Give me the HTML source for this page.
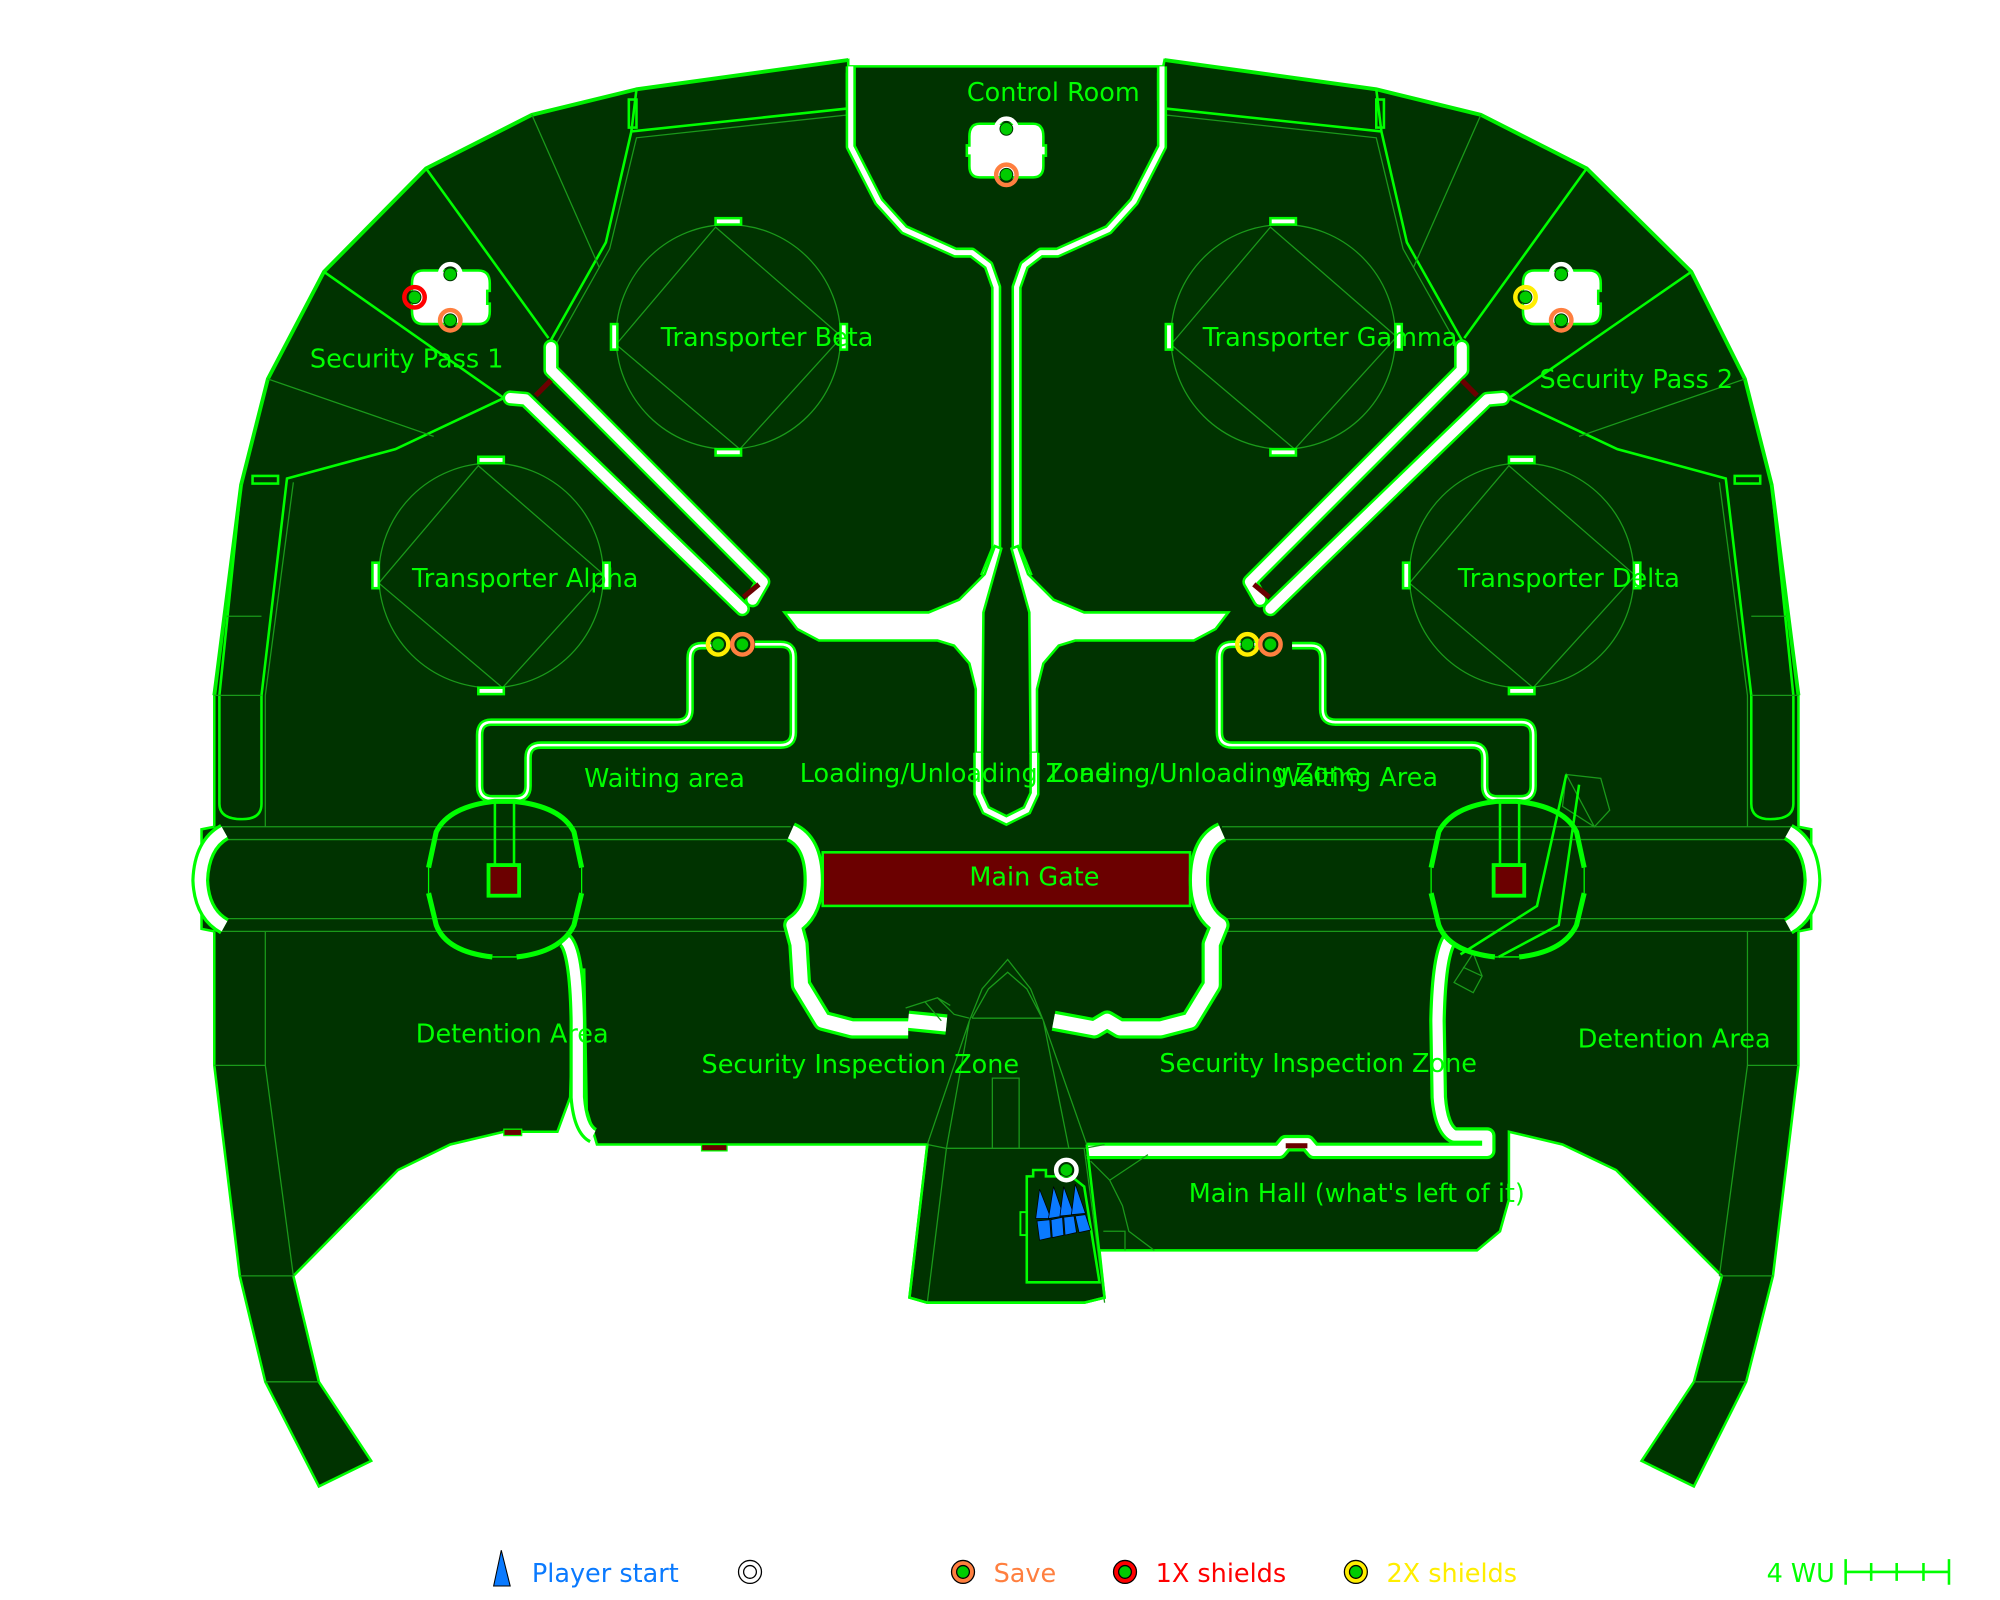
<!DOCTYPE html>
<html><head><meta charset="utf-8"><style>
html,body{margin:0;padding:0;background:#fff;width:2000px;height:1600px;overflow:hidden}
svg{display:block}
text{font-family:"DejaVu Sans","Liberation Sans",sans-serif}
</style></head><body>
<svg width="2000" height="1600" viewBox="0 0 1568 1254" preserveAspectRatio="none" xmlns="http://www.w3.org/2000/svg">
<!-- main floor -->
<path d="M665 47 L499 70 L417 90 L334 132 L254 213 L210 297 L189 380 L168 545 L168 648 L158 650 L158 728 L168 730 L168 835 L188 1000 L208 1083 L250 1165 L291 1145 L250 1083 L230 1000 L312 917 L353 897 L395 887 L437 887 L447 860 L450 760 L458 760 L460 870 L468 897 L727 897 L713 1017 L727 1021 L850 1021 L866 1017 L862 980 L1158 980 L1176 965 L1183 940 L1183 887 L1225 897 L1267 917 L1350 1000 L1328 1083 L1287 1145 L1328 1165 L1369 1083 L1390 1000 L1410 835 L1410 730 L1420 728 L1420 650 L1410 648 L1410 545 L1389 380 L1368 297 L1326 213 L1244 132 L1161 90 L1079 70 L913 47 L912 52 L665 52 Z" fill="#003300" stroke="#00ff00" stroke-width="2"/>
<path d="M665 47 L499 70 L417 90 L334 132 L254 213 L210 297 L189 380 L168 545" fill="none" stroke="#00ee00" stroke-width="3"/>
<path d="M913 47 L1079 70 L1161 90 L1244 132 L1326 213 L1368 297 L1389 380 L1410 545" fill="none" stroke="#00ee00" stroke-width="3"/>
<g fill="none" stroke="#00ff00" stroke-width="2">
<path d="M665 85 L495 103 L475 190 L430 270"/>
<path d="M499 70 L495 103"/>
<path d="M334 132 L430 265"/>
<path d="M254 213 L395 312"/>
<path d="M395 312 L310 352 L225 375 L205 545 L205 630 Q205 642 190 642 Q172 642 172 630 L172 545 L189 380"/>
<path d="M913 85 L1083 103 L1103 190 L1148 270"/>
<path d="M1079 70 L1083 103"/>
<path d="M1244 132 L1148 265"/>
<path d="M1326 213 L1183 312"/>
<path d="M1183 312 L1268 352 L1353 375 L1373 545 L1373 630 Q1373 642 1388 642 Q1406 642 1406 630 L1406 545 L1389 380"/>
<rect x="198" y="373" width="20" height="6"/><rect x="1360" y="373" width="20" height="6"/>
<rect x="493" y="78" width="6" height="22"/><rect x="1079" y="78" width="6" height="22"/>
<rect x="664" y="58" width="5" height="20" fill="#6b0000"/><rect x="908" y="58" width="5" height="20" fill="#6b0000"/>
</g>
<g fill="none" stroke="#1a9a1a" stroke-width="1">
<path d="M417 90 L470 210"/><path d="M1161 90 L1108 210"/>
<path d="M210 297 L340 342"/><path d="M1368 297 L1238 342"/>
<path d="M665 90 L499 108 L478 195 L433 275"/><path d="M913 90 L1079 108 L1100 195 L1145 275"/>
<path d="M230 378 L208 545 L208 648"/><path d="M1348 378 L1370 545 L1370 648"/>
<path d="M178 483 L205 483"/><path d="M1373 483 L1400 483"/>
<path d="M168 545 L205 545"/><path d="M1373 545 L1410 545"/>
<path d="M168 658 L620 658 M168 720 L620 720 M958 658 L1410 658 M958 720 L1410 720"/>
<path d="M168 648 L620 648 M168 730 L620 730 M958 648 L1410 648 M958 730 L1410 730"/>
<path d="M208 730 L208 835 L230 1000 M168 835 L208 835 M188 1000 L230 1000 M208 1083 L250 1083"/>
<path d="M1370 730 L1370 835 L1348 1000 M1410 835 L1370 835 M1390 1000 L1348 1000 M1369 1083 L1328 1083"/>
<path d="M1228 607 L1255 610 L1262 635 L1250 648 L1228 607 L1225 632 L1250 648 M1228 607 L1250 648"/>
<path d="M1155 747 L1162 765 L1155 778 L1140 770 Z M1147 758 L1162 765"/>
</g>
<g fill="none" stroke="#1a9a1a" stroke-width="1">
<circle cx="571" cy="264" r="88"/><path d="M561 178 L660 264 L580 352 L483 270 Z"/>
<circle cx="385" cy="451" r="88"/><path d="M375 365 L474 451 L394 539 L297 457 Z"/>
<circle cx="1006" cy="264" r="88"/><path d="M996 178 L1095 264 L1015 352 L918 270 Z"/>
<circle cx="1193" cy="451" r="88"/><path d="M1183 365 L1282 451 L1202 539 L1105 457 Z"/>
</g>
<g fill="#fff" stroke="#00ff00" stroke-width="2">
<rect x="561" y="171" width="20" height="5"/><rect x="561" y="352" width="20" height="5"/><rect x="479" y="254" width="5" height="20"/><rect x="659" y="254" width="5" height="20"/>
<rect x="375" y="358" width="20" height="5"/><rect x="375" y="539" width="20" height="5"/><rect x="292" y="441" width="5" height="20"/><rect x="473" y="441" width="5" height="20"/>
<rect x="996" y="171" width="20" height="5"/><rect x="996" y="352" width="20" height="5"/><rect x="914" y="254" width="5" height="20"/><rect x="1094" y="254" width="5" height="20"/>
<rect x="1183" y="358" width="20" height="5"/><rect x="1183" y="539" width="20" height="5"/><rect x="1100" y="441" width="5" height="20"/><rect x="1281" y="441" width="5" height="20"/>
</g>
<g fill="none" stroke-linejoin="round" stroke-linecap="round">
<path d="M400 312 L412 313 L582 477" stroke="#00ff00" stroke-width="12"/>
<path d="M400 312 L412 313 L582 477" stroke="#fff" stroke-width="8"/>
<path d="M432 272 L432 290 L598 456 L590 470" stroke="#00ff00" stroke-width="12"/>
<path d="M432 272 L432 290 L598 456 L590 470" stroke="#fff" stroke-width="8"/>
<path d="M1178 312 L1166 313 L996 477" stroke="#00ff00" stroke-width="12"/>
<path d="M1178 312 L1166 313 L996 477" stroke="#fff" stroke-width="8"/>
<path d="M1146 272 L1146 290 L980 456 L988 470" stroke="#00ff00" stroke-width="12"/>
<path d="M1146 272 L1146 290 L980 456 L988 470" stroke="#fff" stroke-width="8"/>
</g>
<path d="M420 310 L432 298" stroke="#6b0000" stroke-width="4"/><path d="M583 468 L595 458" stroke="#6b0000" stroke-width="4"/>
<path d="M1158 310 L1146 298" stroke="#6b0000" stroke-width="4"/><path d="M995 468 L983 458" stroke="#6b0000" stroke-width="4"/>
<g fill="none" stroke-linejoin="round">
<path d="M667 52 L667 115 L689 158 L709 180 L749 198 L762 198 L775 208 L781 225 L781 430 L772 452" stroke="#00ff00" stroke-width="8"/>
<path d="M667 52 L667 115 L689 158 L709 180 L749 198 L762 198 L775 208 L781 225 L781 430 L772 452" stroke="#fff" stroke-width="4"/>
<path d="M911 52 L911 115 L889 158 L869 180 L829 198 L816 198 L803 208 L797 225 L797 430 L806 452" stroke="#00ff00" stroke-width="8"/>
<path d="M911 52 L911 115 L889 158 L869 180 L829 198 L816 198 L803 208 L797 225 L797 430 L806 452" stroke="#fff" stroke-width="4"/>
</g>
<g fill="#fff" stroke="#00ff00" stroke-width="2">
<path d="M615 480 L728 480 L752 470 L772 450 L780 428 L785 430 L778 455 L771 480 L770 590 L765 590 L765 540 L760 520 L748 506 L735 502 L642 502 L625 493 Z"/>
<path d="M963 480 L850 480 L826 470 L806 450 L798 428 L793 430 L800 455 L807 480 L808 590 L813 590 L813 540 L818 520 L830 506 L843 502 L936 502 L953 493 Z"/>
</g>
<path d="M767 590 L767 622 L773 635 L789 643 L805 635 L811 622 L811 590" fill="none" stroke="#00ff00" stroke-width="8"/>
<path d="M767 590 L767 622 L773 635 L789 643 L805 635 L811 622 L811 590" fill="none" stroke="#fff" stroke-width="4"/>
<g fill="none" stroke-linejoin="round">
<path d="M565 506 L550 506 Q541 506 541 516 L541 556 Q541 566 531 566 L385 566 Q376 566 376 576 L376 616 Q376 626 386 626 L404 626 Q414 626 414 616 L414 594 Q414 584 424 584 L612 584 Q622 584 622 574 L622 515 Q622 505 612 505 L592 505" stroke="#00ff00" stroke-width="6"/>
<path d="M565 506 L550 506 Q541 506 541 516 L541 556 Q541 566 531 566 L385 566 Q376 566 376 576 L376 616 Q376 626 386 626 L404 626 Q414 626 414 616 L414 594 Q414 584 424 584 L612 584 Q622 584 622 574 L622 515 Q622 505 612 505 L592 505" stroke="#fff" stroke-width="2"/>
<path d="M1013 506 L1028 506 Q1037 506 1037 516 L1037 556 Q1037 566 1047 566 L1193 566 Q1202 566 1202 576 L1202 616 Q1202 626 1192 626 L1174 626 Q1164 626 1164 616 L1164 594 Q1164 584 1154 584 L966 584 Q956 584 956 574 L956 515 Q956 505 966 505 L986 505" stroke="#00ff00" stroke-width="6"/>
<path d="M1013 506 L1028 506 Q1037 506 1037 516 L1037 556 Q1037 566 1047 566 L1193 566 Q1202 566 1202 576 L1202 616 Q1202 626 1192 626 L1174 626 Q1164 626 1164 616 L1164 594 Q1164 584 1154 584 L966 584 Q956 584 956 574 L956 515 Q956 505 966 505 L986 505" stroke="#fff" stroke-width="2"/>
</g>
<rect x="645" y="668" width="288" height="42" fill="#6b0000" stroke="#00ff00" stroke-width="2"/>
<g fill="none" stroke-linejoin="round">
<path d="M620 652 Q638 660 638 690 Q638 715 622 725 L626 740 L628 772 L645 800 L668 806 L712 806 M712 800 L742 803" stroke="#00ff00" stroke-width="16"/>
<path d="M620 652 Q638 660 638 690 Q638 715 622 725 L626 740 L628 772 L645 800 L668 806 L712 806 M712 800 L742 803" stroke="#fff" stroke-width="11"/>
<path d="M958 652 Q940 660 940 690 Q940 715 956 725 L950 740 L950 772 L933 800 L910 806 L878 806 L868 800 L858 806 L826 800" stroke="#00ff00" stroke-width="16"/>
<path d="M958 652 Q940 660 940 690 Q940 715 956 725 L950 740 L950 772 L933 800 L910 806 L878 806 L868 800 L858 806 L826 800" stroke="#fff" stroke-width="11"/>
<path d="M176 652 Q158 662 157 690 Q158 716 176 726" stroke="#00ff00" stroke-width="14"/>
<path d="M176 652 Q158 662 157 690 Q158 716 176 726" stroke="#fff" stroke-width="9"/>
<path d="M1402 652 Q1420 662 1421 690 Q1420 716 1402 726" stroke="#00ff00" stroke-width="14"/>
<path d="M1402 652 Q1420 662 1421 690 Q1420 716 1402 726" stroke="#fff" stroke-width="9"/>
<path d="M443 737 Q452 745 453 800 L453 860 Q455 885 465 890" stroke="#00ff00" stroke-width="13"/>
<path d="M443 737 Q452 745 453 800 L453 860 Q455 885 465 890" stroke="#fff" stroke-width="8"/>
<path d="M1136 737 Q1128 750 1127 800 L1128 860 Q1130 885 1140 890 L1166 890 L1166 902 L1030 902 L1025 896 L1008 896 L1003 902 L852 902" stroke="#00ff00" stroke-width="13"/>
<path d="M1136 737 Q1128 750 1127 800 L1128 860 Q1130 885 1140 890 L1166 890 L1166 902 L1030 902 L1025 896 L1008 896 L1003 902 L852 902" stroke="#fff" stroke-width="8"/>
</g>
<rect x="1008" y="896" width="17" height="4" fill="#6b0000"/>
<rect x="395" y="885" width="14" height="5" fill="#6b0000" stroke="#00ff00" stroke-width="1"/>
<rect x="550" y="897" width="20" height="5" fill="#6b0000" stroke="#00ff00" stroke-width="1"/>
<g fill="none" stroke="#00ff00">
<path d="M336 680 L342 652 Q352 632 388 628 L403 628 Q440 632 450 652 L456 680 M456 700 L450 725 Q440 746 405 750 M386 750 Q350 746 342 725 L336 700" stroke-width="4"/>
<path d="M336 680 L336 700 M456 680 L456 700 M386 750 L405 750" stroke-width="1"/>
<path d="M388 628 L388 678 M403 628 L403 678" stroke-width="2"/>
<rect x="383" y="678" width="24" height="24" fill="#6b0000" stroke-width="3"/>
<path d="M1122 680 L1128 652 Q1138 632 1174 628 L1189 628 Q1226 632 1236 652 L1242 680 M1242 700 L1236 725 Q1226 746 1191 750 M1172 750 Q1136 746 1128 725 L1122 700" stroke-width="4"/>
<path d="M1122 680 L1122 700 M1242 680 L1242 700 M1172 750 L1191 750" stroke-width="1"/>
<path d="M1176 628 L1176 678 M1191 628 L1191 678" stroke-width="2"/>
<rect x="1171" y="678" width="24" height="24" fill="#6b0000" stroke-width="3"/>
<path d="M1145 748 L1205 710 L1228 607 M1175 750 L1222 725 L1238 615" stroke-width="2"/>
</g>
<g fill="none" stroke="#1a9a1a" stroke-width="1">
<path d="M727 897 L742 900 L850 900 L866 897 M742 900 L727 1021 M850 900 L866 1021"/>
<path d="M760 800 L770 775 L790 752 L808 775 L818 800 M762 798 L775 775 L790 762 L805 775 L817 798 L762 798"/>
<path d="M727 897 L760 800 M852 897 L818 800 M742 900 L760 800 M838 900 L818 800"/>
<path d="M778 900 L778 845 L799 845 L799 900"/>
<path d="M710 790 L735 782 L748 795 L760 798 M745 788 L735 782 M725 785 L738 800"/>
<path d="M855 910 L870 925 L880 945 L885 965 L905 980 M870 925 L900 905 M865 965 L882 965 L882 980"/>
</g>
<path d="M727 897 L713 1017 L727 1021 L850 1021 L866 1017 L852 897" fill="none" stroke="#00ff00" stroke-width="2"/>
<path d="M805 1005 L805 922 L810 922 L810 917 L820 917 L820 922 L840 922 L850 930 L862 1005 Z" fill="none" stroke="#00ff00" stroke-width="2"/>
<rect x="800" y="950" width="5" height="18" fill="none" stroke="#00ff00" stroke-width="1.5"/>
<g fill="#0a7aff" stroke="#000" stroke-width="0.6">
<path d="M812 955 L815 932 L824 955 Z"/><path d="M822 955 L826 930 L834 953 Z"/><path d="M831 953 L834 930 L842 952 Z"/><path d="M840 952 L843 928 L851 951 Z"/>
<path d="M813 957 L823 956 L824 970 L815 972 Z"/><path d="M824 956 L833 954 L834 968 L825 970 Z"/><path d="M834 954 L842 953 L844 966 L835 968 Z"/><path d="M843 953 L851 952 L855 964 L846 966 Z"/>
</g>
<g fill="#fff" stroke="#00ff00" stroke-width="2">
<path d="M768 97 L810 97 Q818 97 818 107 L818 114 L820 114 L820 122 L818 122 L818 130 Q818 139 810 139 L768 139 Q760 139 760 130 L760 122 L758 122 L758 114 L760 114 L760 107 Q760 97 768 97 Z"/>
<path d="M332 212 L375 212 Q384 212 384 222 L384 228 L382 228 L382 238 L384 238 L384 244 Q384 254 375 254 L332 254 Q323 254 323 244 L323 222 Q323 212 332 212 Z"/>
<path d="M1203 212 L1246 212 Q1255 212 1255 222 L1255 228 L1253 228 L1253 238 L1255 238 L1255 244 Q1255 254 1246 254 L1203 254 Q1194 254 1194 244 L1194 222 Q1194 212 1203 212 Z"/>
</g>
<g stroke-width="3.5" fill="none">
<circle cx="789" cy="101" r="8" stroke="#fff"/><circle cx="789" cy="137" r="8" stroke="#ff7f3f"/>
<circle cx="353" cy="215" r="8" stroke="#fff"/><circle cx="353" cy="251" r="8" stroke="#ff7f3f"/><circle cx="325" cy="233" r="8" stroke="#ff0000"/>
<circle cx="1224" cy="215" r="8" stroke="#fff"/><circle cx="1224" cy="251" r="8" stroke="#ff7f3f"/><circle cx="1196" cy="233" r="8" stroke="#ffee00"/>
<circle cx="563" cy="505" r="8" stroke="#ffee00"/><circle cx="582" cy="505" r="8" stroke="#ff7f3f"/>
<circle cx="978" cy="505" r="8" stroke="#ffee00"/><circle cx="996" cy="505" r="8" stroke="#ff7f3f"/>
<circle cx="836" cy="917" r="8" stroke="#fff"/>
</g>
<g fill="#00cc00" stroke="#003300" stroke-width="0.8">
<circle cx="789" cy="101" r="5"/><circle cx="789" cy="137" r="5"/><circle cx="353" cy="215" r="5"/><circle cx="353" cy="251" r="5"/><circle cx="325" cy="233" r="5"/>
<circle cx="1224" cy="215" r="5"/><circle cx="1224" cy="251" r="5"/><circle cx="1196" cy="233" r="5"/>
<circle cx="563" cy="505" r="5"/><circle cx="582" cy="505" r="5"/><circle cx="978" cy="505" r="5"/><circle cx="996" cy="505" r="5"/><circle cx="836" cy="917" r="5"/>
</g>
<g fill="#00ff00" font-size="20">
<text x="758" y="79">Control Room</text>
<text x="518" y="271">Transporter Beta</text>
<text x="243" y="288">Security Pass 1</text>
<text x="323" y="460">Transporter Alpha</text>
<text x="943" y="271">Transporter Gamma</text>
<text x="1207" y="304">Security Pass 2</text>
<text x="1143" y="460">Transporter Delta</text>
<text x="458" y="617">Waiting area</text>
<text x="627" y="613">Loading/Unloading Zone</text>
<text x="823" y="613">Loading/Unloading Zone</text>
<text x="1000" y="616">Waiting Area</text>
<text x="760" y="694">Main Gate</text>
<text x="326" y="817">Detention Area</text>
<text x="550" y="841">Security Inspection Zone</text>
<text x="909" y="840">Security Inspection Zone</text>
<text x="1237" y="821">Detention Area</text>
<text x="932" y="942">Main Hall (what's left of it)</text>
</g>
<path d="M387 1243 L393 1215 L400 1243 Z" fill="#0a7aff" stroke="#000" stroke-width="0.8"/>
<g font-size="20">
<text x="417" y="1240" fill="#0a7aff">Player start</text>
<text x="779" y="1240" fill="#ff7f3f">Save</text>
<text x="906" y="1240" fill="#ff0000">1X shields</text>
<text x="1087" y="1240" fill="#ffee00">2X shields</text>
<text x="1385" y="1240" fill="#00ff00">4 WU</text>
</g>
<circle cx="588" cy="1232" r="9" fill="#fff" stroke="#000" stroke-width="1"/><circle cx="588" cy="1232" r="5" fill="none" stroke="#000" stroke-width="1"/>
<circle cx="755" cy="1232" r="9" fill="#ff7f3f" stroke="#000" stroke-width="1"/><circle cx="755" cy="1232" r="5" fill="#00cc00" stroke="#000" stroke-width="1"/>
<circle cx="882" cy="1232" r="9" fill="#ff0000" stroke="#000" stroke-width="1"/><circle cx="882" cy="1232" r="5" fill="#00cc00" stroke="#000" stroke-width="1"/>
<circle cx="1063" cy="1232" r="9" fill="#ffee00" stroke="#000" stroke-width="1"/><circle cx="1063" cy="1232" r="5" fill="#00cc00" stroke="#000" stroke-width="1"/>
<path d="M1447 1232 L1528 1232 M1447 1222 L1447 1242 M1467 1225 L1467 1239 M1487 1225 L1487 1239 M1508 1225 L1508 1239 M1528 1222 L1528 1242" stroke="#00ff00" stroke-width="2" fill="none"/>
</svg>
</body></html>
